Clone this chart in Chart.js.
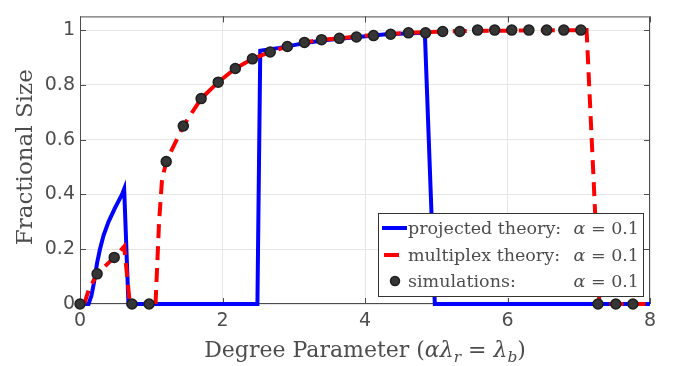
<!DOCTYPE html>
<html>
<head>
<meta charset="utf-8">
<script src="https://cdn.jsdelivr.net/npm/chart.js@4"></script>
<style>
  html, body { margin: 0; padding: 0; background: #fff; }
  #wrap { width: 678px; height: 366px; }
</style>
</head>
<body>
<div id="wrap"><canvas id="chart" width="678" height="366"></canvas></div>
<script>
// values
const projectedX = [0, 0.12, 0.16, 0.19, 0.21, 0.24, 0.28, 0.33, 0.40, 0.49, 0.59, 0.62, 0.68, 2.49, 2.53, 2.80, 3.00, 3.20, 3.50, 3.90, 4.30, 4.84, 4.98, 8.0];
const projectedY = [0, 0, 0.03, 0.07, 0.10, 0.15, 0.20, 0.25, 0.30, 0.35, 0.40, 0.42, 0, 0, 0.925, 0.935, 0.945, 0.955, 0.965, 0.975, 0.985, 0.99, 0, 0];

const multiplexX = [0.06, 0.12, 0.24, 0.36, 0.48, 0.62, 0.70, 0.90, 1.06, 1.08, 1.11, 1.15, 1.21, 1.45, 1.70, 1.94, 2.18, 2.42, 2.67, 2.91, 3.15, 3.39, 3.64, 3.88, 4.12, 4.36, 4.60, 4.85, 5.10, 5.50, 6.00, 7.11, 7.29, 8.0];
const multiplexY = [0, 0.05, 0.11, 0.14, 0.17, 0.21, 0, null, 0, 0.12, 0.30, 0.45, 0.52, 0.65, 0.75, 0.81, 0.86, 0.895, 0.92, 0.94, 0.955, 0.965, 0.97, 0.977, 0.982, 0.986, 0.99, 0.992, 0.995, 0.997, 0.998, 1.0, 0, 0];

const simX = [0, 0.24, 0.48, 0.73, 0.97, 1.21, 1.45, 1.70, 1.94, 2.18, 2.42, 2.67, 2.91, 3.15, 3.39, 3.64, 3.88, 4.12, 4.36, 4.61, 4.85, 5.09, 5.33, 5.58, 5.82, 6.06, 6.30, 6.55, 6.79, 7.03, 7.27, 7.52, 7.76];
const simY = [0, 0.11, 0.17, 0, 0, 0.52, 0.65, 0.75, 0.81, 0.86, 0.895, 0.92, 0.94, 0.955, 0.965, 0.97, 0.975, 0.98, 0.985, 0.99, 0.99, 0.995, 0.995, 1, 1, 1, 1, 1, 1, 1, 0, 0, 0];

const xTicks = [0, 2, 4, 6, 8];
const yTicks = [0, 0.2, 0.4, 0.6, 0.8, 1];

const legendLabels = ["projected theory:", "multiplex theory:", "simulations:"];
const legendAlpha = "0.1";

const toPoints = (xs, ys) => xs.map((x, i) => ({ x: x, y: ys[i] }));

const textGray = "#4d4d4d";
const serif = "'DejaVu Serif', 'Liberation Serif', serif";

// draw a run of text pieces, some italic, some subscripts
function drawPieces(ctx, parts, x, baseline, size, align) {
  const fontOf = p => (p.it ? "italic " : "") + (p.sub ? size * 0.7 : size) + "px " + serif;
  let total = 0;
  parts.forEach(p => { ctx.font = fontOf(p); total += ctx.measureText(p.t).width; });
  let cx = align === "center" ? x - total / 2 : align === "right" ? x - total : x;
  ctx.textAlign = "left";
  ctx.textBaseline = "alphabetic";
  parts.forEach(p => {
    ctx.font = fontOf(p);
    ctx.fillText(p.t, cx, baseline + (p.sub ? size * 0.22 : 0));
    cx += ctx.measureText(p.t).width;
  });
}

const framePlugin = {
  id: "frame",
  beforeDatasetsDraw(chart) {
    const { ctx, chartArea: a, scales } = chart;
    ctx.save();
    ctx.strokeStyle = "#4d4d4d";
    ctx.lineWidth = 1;
    ctx.strokeRect(a.left + 0.5, a.top + 0.5, a.right - a.left - 1, a.bottom - a.top - 1);
    ctx.beginPath();
    xTicks.forEach(v => {
      const px = Math.round(scales.x.getPixelForValue(v)) + 0.5;
      ctx.moveTo(px, a.bottom); ctx.lineTo(px, a.bottom - 6);
      ctx.moveTo(px, a.top); ctx.lineTo(px, a.top + 6);
    });
    yTicks.forEach(v => {
      const py = Math.round(scales.y.getPixelForValue(v)) + 0.5;
      ctx.moveTo(a.left, py); ctx.lineTo(a.left + 6, py);
      ctx.moveTo(a.right, py); ctx.lineTo(a.right - 6, py);
    });
    ctx.stroke();
    ctx.restore();
  },
  afterDraw(chart) {
    const { ctx, chartArea: a } = chart;
    ctx.save();
    ctx.fillStyle = textGray;

    // y axis title
    ctx.save();
    ctx.translate(24, (a.top + a.bottom) / 2 - 3);
    ctx.rotate(-Math.PI / 2);
    drawPieces(ctx, [{ t: "Fractional Size" }], 0, 8, 23, "center");
    ctx.restore();

    // x axis title
    drawPieces(ctx, [
      { t: "Degree Parameter (" },
      { t: "α", it: true }, { t: "λ", it: true }, { t: "r", it: true, sub: true },
      { t: " = " },
      { t: "λ", it: true }, { t: "b", it: true, sub: true },
      { t: ")" }
    ], (a.left + a.right) / 2, 357, 22, "center");

    // legend
    const box = { l: 378, t: 213, r: 643, b: 296 };
    ctx.fillStyle = "#fff";
    ctx.fillRect(box.l, box.t, box.r - box.l, box.b - box.t);
    ctx.strokeStyle = "#333";
    ctx.lineWidth = 1;
    ctx.strokeRect(box.l + 0.5, box.t + 0.5, box.r - box.l, box.b - box.t);

    const rows = [228, 255, 281];
    const ds = chart.data.datasets;
    // line samples
    ctx.lineWidth = 4;
    ctx.strokeStyle = ds[0].borderColor;
    ctx.beginPath(); ctx.moveTo(382, rows[0]); ctx.lineTo(407, rows[0]); ctx.stroke();
    ctx.strokeStyle = ds[1].borderColor;
    ctx.beginPath(); ctx.moveTo(384, rows[1]); ctx.lineTo(399, rows[1]); ctx.stroke();
    ctx.fillStyle = ds[2].pointBackgroundColor;
    ctx.strokeStyle = ds[2].pointBorderColor;
    ctx.lineWidth = 1.5;
    ctx.beginPath(); ctx.arc(395, rows[2], 4.5, 0, Math.PI * 2); ctx.fill(); ctx.stroke();

    ctx.fillStyle = textGray;
    legendLabels.forEach((lab, i) => {
      drawPieces(ctx, [{ t: lab }], 408, rows[i] + 6, 17.5, "left");
      drawPieces(ctx, [{ t: "α", it: true }, { t: " = " + legendAlpha }], 639, rows[i] + 6, 17.5, "right");
    });
    ctx.restore();
  }
};

new Chart(document.getElementById("chart"), {
  type: "line",
  data: {
    datasets: [
      {
        label: "projected theory: α = 0.1",
        data: toPoints(projectedX, projectedY),
        borderColor: "#0000ff",
        borderWidth: 4,
        pointRadius: 0,
        tension: 0,
        order: 3,
        clip: 6
      },
      {
        label: "multiplex theory: α = 0.1",
        data: toPoints(multiplexX, multiplexY),
        borderColor: "#ff0000",
        borderWidth: 4,
        borderDash: [14, 8],
        pointRadius: 0,
        tension: 0,
        spanGaps: false,
        order: 2,
        clip: 6
      },
      {
        label: "simulations: α = 0.1",
        data: toPoints(simX, simY),
        showLine: false,
        pointRadius: 5,
        pointBackgroundColor: "#353535",
        pointBorderColor: "#1e1e1e",
        pointBorderWidth: 1.5,
        order: 1,
        clip: 8
      }
    ]
  },
  options: {
    responsive: false,
    animation: false,
    devicePixelRatio: 1,
    layout: { padding: { left: 0, top: 8, right: 28, bottom: 0 } },
    plugins: { legend: { display: false }, tooltip: { enabled: false } },
    scales: {
      x: {
        type: "linear",
        min: 0,
        max: 8,
        afterBuildTicks: s => { s.ticks = xTicks.map(v => ({ value: v })); },
        afterFit: s => { s.height = 62; },
        border: { display: false },
        grid: { color: "#e6e6e6", drawTicks: false },
        ticks: { color: textGray, padding: 6, font: { family: "'DejaVu Sans', sans-serif", size: 19 }, callback: v => String(v) }
      },
      y: {
        type: "linear",
        min: 0,
        max: 1.05,
        afterBuildTicks: s => { s.ticks = yTicks.map(v => ({ value: v })); },
        afterFit: s => { s.width = 80; },
        border: { display: false },
        grid: { color: "#e6e6e6", drawTicks: false },
        ticks: { color: textGray, padding: 5, font: { family: "'DejaVu Sans', sans-serif", size: 19 }, callback: v => String(v) }
      }
    }
  },
  plugins: [framePlugin]
});
</script>
</body>
</html>
